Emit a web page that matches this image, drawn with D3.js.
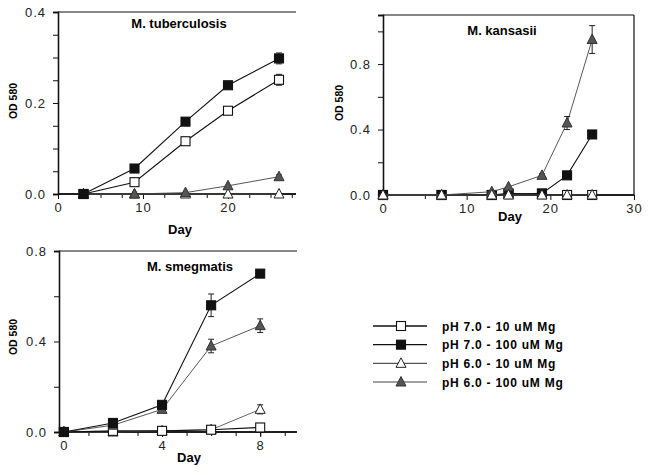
<!DOCTYPE html>
<html><head><meta charset="utf-8">
<script src="https://cdn.jsdelivr.net/npm/d3@7"></script>
<style>
body{margin:0;background:#fff;}
svg text{font-family:"Liberation Sans",Arial,sans-serif;}
</style></head>
<body><svg id="c" width="653" height="475"></svg>
<script>
// ---- data ----
const seriesNames = ["pH 7.0 - 10 uM Mg","pH 7.0 - 100 uM Mg","pH 6.0 - 10 uM Mg","pH 6.0 - 100 uM Mg"];
// M. tuberculosis
const tbDays = [3, 9, 15, 20, 26];
const tbOpenSq   = [0, 0.026, 0.116, 0.183, 0.251];
const tbFilledSq = [0, 0.056, 0.159, 0.239, 0.298];
const tbOpenTri  = [0, 0, 0, 0, 0];
const tbFilledTri= [0, 0, 0.003, 0.018, 0.038];
const tbErrOpenSq   = [0, 0, 0.004, 0.005, 0.012];
const tbErrFilledSq = [0, 0.003, 0.007, 0.004, 0.012];
const tbErrOpenTri  = [0, 0, 0, 0, 0];
const tbErrFilledTri= [0, 0, 0, 0, 0.004];
// M. kansasii
const kaDays = [0, 7, 13, 15, 19, 22, 25];
const kaOpenSq   = [0, 0, 0, 0.01, 0.005, 0, 0];
const kaFilledSq = [0, 0, 0, 0.005, 0.01, 0.12, 0.37];
const kaOpenTri  = [0, 0, 0, 0, 0, 0, 0];
const kaFilledTri= [0, 0, 0.02, 0.05, 0.12, 0.44, 0.95];
const kaErrFilledTri = [0, 0, 0, 0, 0.01, 0.04, 0.085];
// M. smegmatis
const smDays = [0, 2, 4, 6, 8];
const smOpenSq   = [0, 0.005, 0.005, 0.01, 0.02];
const smFilledSq = [0, 0.04, 0.12, 0.56, 0.70];
const smOpenTri  = [0, 0, 0.005, 0.01, 0.10];
const smFilledTri= [0, 0.03, 0.10, 0.38, 0.47];
const smErrFilledSq = [0, 0, 0, 0.05, 0];
const smErrFilledTri= [0, 0, 0, 0.03, 0.03];
const smErrOpenTri  = [0, 0, 0, 0, 0.02];

const svg = d3.select("#c");

const styles = {
  openSq:   {shape:"sq",  fill:"#fff", stroke:"#111", line:"#111", lw:1.1},
  filledSq: {shape:"sq",  fill:"#111", stroke:"#111", line:"#111", lw:1.1},
  openTri:  {shape:"tri", fill:"#fff", stroke:"#222", line:"#555", lw:0.9},
  filledTri:{shape:"tri", fill:"#555", stroke:"#333", line:"#444", lw:0.9}
};

function marker(g, shape, x, y, st){
  if(shape==="sq"){
    g.append("rect").attr("x",x-4.5).attr("y",y-4.5).attr("width",9).attr("height",9)
      .attr("fill",st.fill).attr("stroke",st.stroke).attr("stroke-width",1.1);
  } else {
    g.append("path").attr("d",`M${x},${y-5.5}L${x+5},${y+4}L${x-5},${y+4}Z`)
      .attr("fill",st.fill).attr("stroke",st.stroke).attr("stroke-width",1);
  }
}

function panel(o){
  const x = d3.scaleLinear(o.xDomain, o.xRange);
  const y = d3.scaleLinear(o.yDomain, o.yRange);
  const g = svg.append("g");
  const x0 = o.xRange[0], x1 = o.xRange[1], y0 = o.yRange[0], y1 = o.yRange[1];
  // frame
  g.append("line").attr("x1",x0).attr("x2",x1).attr("y1",y1).attr("y2",y1).attr("stroke","#111").attr("stroke-width",1.2);
  if(o.rightBorder) g.append("line").attr("x1",x1).attr("x2",x1).attr("y1",y1).attr("y2",y0).attr("stroke","#111").attr("stroke-width",1.2);
  // y axis
  const ya = g.append("g").attr("transform",`translate(${x0},0)`)
    .call(d3.axisLeft(y).tickValues(o.yMinor).tickSize(5).tickFormat(""));
  const yb = g.append("g").attr("transform",`translate(${x0},0)`)
    .call(d3.axisLeft(y).tickValues(o.yMajor).tickSize(5).tickPadding(7).tickFormat(d3.format(".1f")));
  // x axis
  const xa = g.append("g").attr("transform",`translate(0,${y0})`)
    .call(d3.axisBottom(x).tickValues(o.xMinor).tickSize(4).tickFormat(""));
  const xb = g.append("g").attr("transform",`translate(0,${y0})`)
    .call(d3.axisBottom(x).tickValues(o.xMajor).tickSize(5).tickPadding(4).tickFormat(d3.format("d")));
  [ya,yb,xa,xb].forEach(a=>{
    a.select(".domain").attr("stroke","#111").attr("stroke-width",1.3);
    a.selectAll(".tick line").attr("stroke","#111");
    a.selectAll(".tick text").attr("font-size",13).attr("fill","#222")
      .attr("letter-spacing","1px").attr("font-family","Liberation Sans, Arial, sans-serif");
  });
  xa.select(".domain").attr("d",`M${x0},0H${x1}`);
  xb.select(".domain").attr("d",`M${x0},0H${x1}`);
  // titles
  g.append("text").attr("x",o.titleX).attr("y",o.titleY).attr("text-anchor","middle")
    .attr("font-size",13).attr("font-weight","bold").text(o.title);
  g.append("text").attr("transform",`translate(${o.odX},${o.odY}) rotate(-90)`).attr("text-anchor","middle")
    .attr("font-size",10.5).attr("font-weight","bold").text("OD 580");
  g.append("text").attr("x",o.dayX).attr("y",o.dayY).attr("text-anchor","middle")
    .attr("font-size",13).attr("font-weight","bold").text("Day");
  // series
  o.series.forEach(s=>{
    const st = styles[s.key];
    const pts = o.days.map((d,i)=>[x(d), y(s.vals[i])]);
    g.append("path").attr("d", d3.line()(pts)).attr("fill","none").attr("stroke",st.line).attr("stroke-width",st.lw);
    if(s.err) o.days.forEach((d,i)=>{
      const e = s.err[i]; if(!e) return;
      const cx = x(d);
      g.append("line").attr("x1",cx).attr("x2",cx).attr("y1",y(s.vals[i]+e)).attr("y2",y(s.vals[i]-e)).attr("stroke","#222").attr("stroke-width",1);
      [s.vals[i]+e, s.vals[i]-e].forEach(v=>g.append("line").attr("x1",cx-3).attr("x2",cx+3).attr("y1",y(v)).attr("y2",y(v)).attr("stroke","#222").attr("stroke-width",1));
    });
    pts.forEach(p=>marker(g, st.shape, p[0], p[1], st));
  });
}

panel({
  title:"M. tuberculosis", titleX:179, titleY:28, odX:17, odY:101, dayX:180, dayY:234,
  xDomain:[0,28], xRange:[58,296], yDomain:[0,0.4], yRange:[194,12],
  yMajor:[0,0.2,0.4], yMinor:d3.range(0,0.401,0.05), xMajor:[0,10,20], xMinor:d3.range(0,28.1,2.5),
  rightBorder:false, days:tbDays,
  series:[
    {key:"openTri", vals:tbOpenTri, err:tbErrOpenTri},
    {key:"filledTri", vals:tbFilledTri, err:tbErrFilledTri},
    {key:"openSq", vals:tbOpenSq, err:tbErrOpenSq},
    {key:"filledSq", vals:tbFilledSq, err:tbErrFilledSq}
  ]
});

panel({
  title:"M. kansasii", titleX:502, titleY:35, odX:343, odY:103, dayX:510, dayY:221,
  xDomain:[0,30], xRange:[383,634], yDomain:[0,1.1], yRange:[195,15],
  yMajor:[0,0.4,0.8], yMinor:[0.2,0.6,1.0], xMajor:[0,10,20,30], xMinor:[5,15,25],
  rightBorder:true, days:kaDays,
  series:[
    {key:"openSq", vals:kaOpenSq},
    {key:"filledSq", vals:kaFilledSq},
    {key:"filledTri", vals:kaFilledTri, err:kaErrFilledTri},
    {key:"openTri", vals:kaOpenTri}
  ]
});

panel({
  title:"M. smegmatis", titleX:190, titleY:271, odX:17, odY:337, dayX:189, dayY:462,
  xDomain:[-0.2,9.5], xRange:[59,297], yDomain:[0,0.8], yRange:[432,251],
  yMajor:[0,0.4,0.8], yMinor:[0.2,0.6], xMajor:[0,4,8], xMinor:d3.range(0,9.1,1),
  rightBorder:false, days:smDays,
  series:[
    {key:"openTri", vals:smOpenTri, err:smErrOpenTri},
    {key:"openSq", vals:smOpenSq},
    {key:"filledTri", vals:smFilledTri, err:smErrFilledTri},
    {key:"filledSq", vals:smFilledSq, err:smErrFilledSq}
  ]
});

// legend
const legKeys = ["openSq","filledSq","openTri","filledTri"];
const leg = svg.append("g");
const legY = d3.scalePoint().domain(seriesNames).range([326, 382]);
seriesNames.forEach((n,i)=>{
  const st = styles[legKeys[i]];
  const yy = legY(n);
  leg.append("line").attr("x1",373).attr("x2",427).attr("y1",yy).attr("y2",yy).attr("stroke",st.line).attr("stroke-width",st.lw+0.3);
  marker(leg, st.shape, 401, yy, st);
  leg.append("text").attr("x",442).attr("y",yy+4.5).attr("font-size",12).attr("font-weight","bold")
    .attr("letter-spacing","0.75px").text(n);
});
</script></body></html>
